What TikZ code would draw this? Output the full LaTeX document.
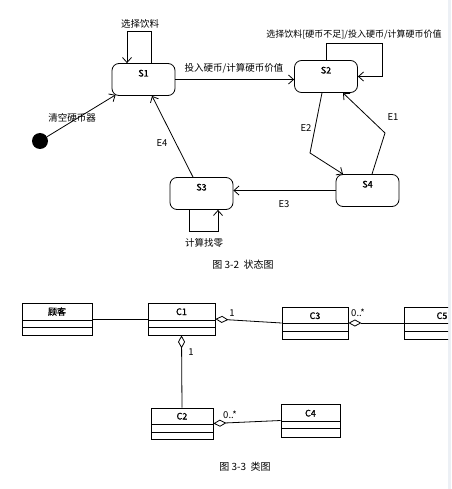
\documentclass[tikz,border=0pt]{standalone}
\usepackage{fontspec}
\setmainfont{Noto Sans CJK SC}
\newfontfamily\cjkbold{Noto Sans CJK SC}[FakeBold=1.2]
\usetikzlibrary{arrows.meta}
\definecolor{bandgray}{HTML}{ECF0F5}
\begin{document}
\begin{tikzpicture}[x=1pt,y=-1pt,
  line width=0.8pt,
  state/.style={draw, rounded corners=7pt, minimum width=63pt, minimum height=32pt,
    inner sep=0pt, text height=7pt, text depth=13pt, font=\cjkbold\fontsize{9}{10}\selectfont},
  cls/.style 2 args={draw, minimum height=32pt, inner sep=0pt, text height=7pt, text depth=15pt,
    font=\cjkbold\fontsize{9}{10}\selectfont,
    path picture={\draw ([yshift=-#1]path picture bounding box.north west) -- ([yshift=-#1]path picture bounding box.north east)
      ([yshift=-#2]path picture bounding box.north west) -- ([yshift=-#2]path picture bounding box.north east);}},
  arr/.style={-{Straight Barb[length=5pt,width=9pt]}},
  agg/.style={{Diamond[open,length=13pt,width=7pt]}-},
  lbl/.style={font=\fontsize{9.5}{11}\selectfont, inner sep=1pt},
  captext/.style={font=\fontsize{10}{12}\selectfont, inner sep=1pt}]
\useasboundingbox (0,0) rectangle (451,489);
\fill[white] (0,0) rectangle (451,489);
\fill[bandgray] (448,0) rectangle (451,489);
\begin{scope}
\clip (0,0) rectangle (448,489);

% ---- state diagram ----
\node[state] (s1) at (143.5,79.5) {S1};
\node[state] (s2) at (326,76.5) {S2};
\node[state] (s3) at (201.5,193.5) {S3};
\node[state] (s4) at (367.5,190.5) {S4};
\node[circle, fill, minimum size=16pt, inner sep=0pt] (init) at (40,141) {};

\coordinate (e2b) at (310,153);
\coordinate (e1b) at (385,133);

\draw[arr] (s1.east) -- (s1.east -| s2.west);
\draw[arr] ([xshift=7.5pt]s1.north) -- ++(0,-32) -| ([xshift=-16.5pt]s1.north);
\draw[arr] (s2.north) -- ++(0,-17) -| ([xshift=24pt]s2.east) -- (s2.east);
\draw[arr] (init) -- ([xshift=4pt,yshift=1pt]s1.south west);
\draw[arr] ([xshift=-8.5pt]s3.north) -- ([xshift=8.5pt]s1.south);
\draw[arr] ([xshift=-12.5pt]s3.south) -- ++(0,21) -| ([xshift=16.5pt]s3.south);
\draw[arr] (s4.west) -- (s4.west -| s3.east);
\draw[arr] ([xshift=-4pt]s2.south) -- (e2b) -- ([xshift=-24.5pt]s4.north);
\draw[arr] ([xshift=4.5pt]s4.north) -- (e1b) -- ([xshift=17pt]s2.south);

\node[lbl] (l1) at (140,24) {选择饮料};
\node[lbl, anchor=west, font=\fontsize{9}{11}\selectfont] (l2) at (265,35) {选择饮料[硬币不足]/投入硬币/计算硬币价值};
\node[lbl] (l3) at (234,68) {投入硬币/计算硬币价值};
\node[lbl] (l4) at (72,118) {清空硬币器};
\node[lbl] (le4) at (162,143) {E4};
\node[lbl] (le2) at (306,128) {E2};
\node[lbl] (le1) at (393,117) {E1};
\node[lbl] (le3) at (284,204) {E3};
\node[lbl] (l5) at (204,243) {计算找零};
\node[captext] (cap1) at (243,265) {图 3-2\ \ 状态图};

% ---- class diagram ----
\node[cls={17pt}{24pt}, minimum width=70pt] (cust) at (57,319) {顾客};
\node[cls={17pt}{24pt}, minimum width=67pt] (c1) at (181.5,319) {C1};
\node[cls={16pt}{24pt}, minimum width=66pt] (c3) at (315,323) {C3};
\node[cls={16pt}{24pt}, minimum width=76pt] (c5) at (442,323) {C5};
\node[cls={16pt}{24pt}, minimum width=62pt, minimum height=31pt] (c2) at (182,423.5) {C2};
\node[cls={17pt}{24pt}, minimum width=59pt, minimum height=33pt] (c4) at (310.5,420.5) {C4};

\draw (cust.east) -- (c1.west);
\draw[agg] (c1.east) -- (c3.west);
\draw[agg] (c3.east) -- (c5.west);
\draw[agg] (c1.south) -- (c2.north);
\draw[agg] (c2.east) -- (c4.west);

\node[lbl] (m1) at (232,313) {1};
\node[lbl] (m2) at (358,313) {0..*};
\node[lbl] (m3) at (191,352) {1};
\node[lbl] (m4) at (230,415) {0..*};
\node[captext] (cap2) at (245,467) {图 3-3\ \ 类图};
\end{scope}
\end{tikzpicture}
\end{document}
